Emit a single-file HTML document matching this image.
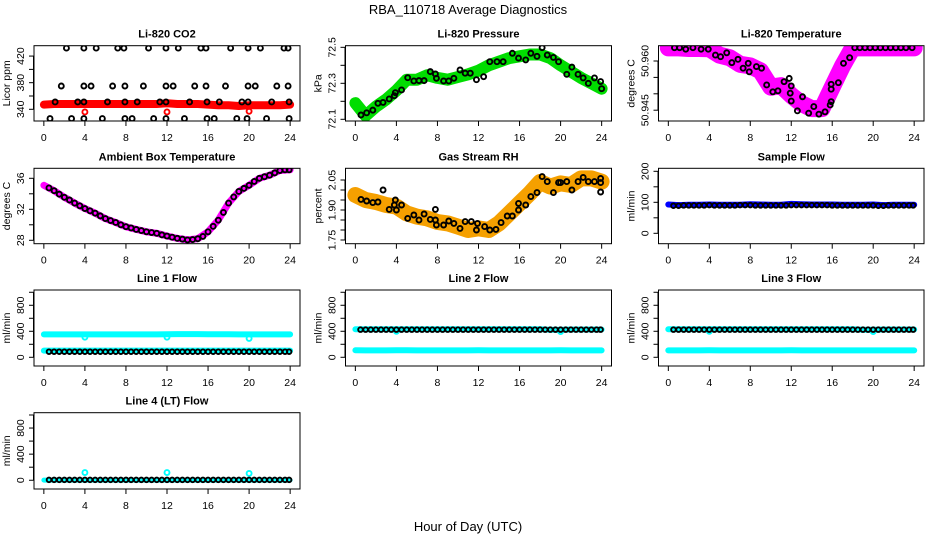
<!DOCTYPE html>
<html><head><meta charset="utf-8"><style>
html,body{margin:0;padding:0;background:#fff;}
svg{display:block;font-family:"Liberation Sans",sans-serif;}
</style></head><body>
<svg id="chart" width="936" height="540" viewBox="0 0 936 540">
<rect width="936" height="540" fill="#fff"/>
<text x="468" y="14" text-anchor="middle" font-size="13">RBA_110718  Average Diagnostics</text>
<text x="468" y="531" text-anchor="middle" font-size="13">Hour of Day (UTC)</text>
</svg>
<script>
// ---- shared hour categories ----
const H25 = [0,1,2,3,4,5,6,7,8,9,10,11,12,13,14,15,16,17,18,19,20,21,22,23,24];
const H48 = [0.5,1,1.5,2,2.5,3,3.5,4,4.5,5,5.5,6,6.5,7,7.5,8,8.5,9,9.5,10,10.5,11,11.5,12,12.5,13,13.5,14,14.5,15,15.5,16,16.5,17,17.5,18,18.5,19,19.5,20,20.5,21,21.5,22,22.5,23,23.5,23.9];
const xTicks = [0,4,8,12,16,20,24];

// ---- CO2 ----
const co2Band = [347,348,348,348,348,348,348,348,348,348,348,348,349,348,348,348,347,346,346,345,346,346,346,346,347];
const co2Hours = [2.2,3.9,5.1,7.2,7.8,10.2,11.9,13.1,15.3,15.8,18.2,19.9,21.1,23.4,23.8,
 1.7,3.9,4.6,6.7,7.9,9.7,11.9,12.6,14.7,15.8,17.7,19.9,20.6,22.7,23.8,
 1.1,3.3,3.9,6.2,7.9,9.1,11.3,11.9,14.2,15.9,17.1,19.3,19.9,22.2,23.9,
 0.6,2.7,3.9,5.7,7.9,8.6,10.7,11.9,13.7,15.9,16.6,18.8,19.8,21.7,23.9];
const co2Vals = [432,432,432,432,432,432,432,432,432,432,432,432,432,432,432,
 375,375,375,375,375,375,375,375,375,375,375,375,375,375,375,
 351,351,351,351,351,351,351,351,351,351,351,351,351,351,351,
 326,326,326,326,326,326,326,326,326,326,326,326,326,326,326];
const co2OutHours = [4,12,20];
const co2OutVals = [336,336,337];

// ---- Pressure ----
const presBand = [72.19,72.12,72.17,72.21,72.26,72.32,72.32,72.345,72.33,72.32,72.335,72.35,72.37,72.4,72.42,72.44,72.45,72.46,72.46,72.44,72.4,72.365,72.33,72.3,72.27];
const presHours = [0.55,1.1,1.7,2.2,2.7,3.3,3.8,3.9,4.5,5.1,5.7,6.2,6.7,7.3,7.8,7.9,8.6,9.1,9.6,10.2,10.7,11.2,11.8,12.5,13.1,13.8,14.4,15.3,15.9,16.6,17.1,17.7,18.2,18.7,19.3,19.8,20.6,21.1,21.7,22.2,22.7,23.3,23.9,24];
const presVals = [72.124,72.136,72.151,72.189,72.194,72.213,72.231,72.248,72.263,72.331,72.313,72.315,72.315,72.365,72.352,72.328,72.313,72.313,72.328,72.374,72.356,72.356,72.32,72.337,72.42,72.42,72.42,72.467,72.44,72.43,72.467,72.45,72.498,72.457,72.444,72.42,72.35,72.39,72.35,72.33,72.30,72.33,72.31,72.27];

// ---- Li-820 temperature ----
const ltBand = [50.9640,50.9640,50.9638,50.9638,50.9637,50.9618,50.9610,50.9590,50.9585,50.9570,50.9520,50.9525,50.9495,50.9470,50.9455,50.9455,50.9520,50.9585,50.9640,50.9640,50.9640,50.9640,50.9640,50.9640,50.9640];
const ltHours = [0.6,1.1,1.7,2.4,3.2,3.9,4.6,5.1,5.7,6.2,6.8,7.3,7.8,7.9,8.6,9.1,9.6,10.2,10.7,11.3,11.8,11.9,12,12,12.6,13.1,13.7,14.2,14.7,15.3,15.8,15.9,15.9,15.9,16.6,17.1,17.7,18.2,18.7,19.2,19.7,20.2,20.7,21.2,21.7,22.2,22.7,23.2,23.8];
const ltVals = [50.96405,50.96405,50.9636,50.96405,50.9636,50.9636,50.9618,50.9613,50.9625,50.9595,50.9605,50.9578,50.9593,50.9567,50.9583,50.9578,50.9527,50.9506,50.9509,50.9537,50.9547,50.9502,50.9524,50.9478,50.9448,50.9491,50.9441,50.9461,50.9438,50.9445,50.9466,50.9476,50.9514,50.9529,50.9534,50.9593,50.9610,50.96405,50.96405,50.96405,50.96405,50.96405,50.96405,50.96405,50.96405,50.96405,50.96405,50.96405,50.96405];

// ---- Ambient box temperature ----
const ambBand = [35.1,34.4,33.55,32.8,32.1,31.5,30.8,30.3,29.75,29.4,29.1,28.9,28.55,28.25,28.05,28.2,29.1,30.6,32.8,34.3,35.1,36,36.4,37,37.1];
const ambVals = [34.75,34.4,33.95,33.55,33.2,32.8,32.45,32.1,31.8,31.5,31.15,30.8,30.55,30.3,30.0,29.75,29.6,29.4,29.25,29.1,29.0,28.9,28.7,28.55,28.4,28.25,28.15,28.05,28.1,28.2,28.5,29.1,29.8,30.6,31.6,32.8,33.6,34.3,34.7,35.1,35.6,36,36.2,36.4,36.7,37.0,37.1,37.1];

// ---- Gas stream RH ----
const rhBand = [1.975,1.95,1.94,1.925,1.917,1.883,1.867,1.858,1.84,1.833,1.817,1.80,1.808,1.80,1.833,1.883,1.933,1.983,2.04,2.017,2.033,2.025,2.058,2.058,2.042];
const rhHours = [0.55,1.1,1.7,2.2,2.7,3.3,3.8,3.9,4.0,4.5,5.1,5.7,6.2,6.7,7.3,7.8,7.8,7.9,8.6,9.1,9.6,10.2,10.7,11.3,11.8,11.9,12.6,13.1,13.7,14.2,14.8,15.3,15.9,15.9,16.6,17.1,17.7,18.2,18.7,19.3,19.8,20.0,20.6,21.1,21.7,22.2,22.7,23.3,23.9,23.9,23.9];
const rhVals = [1.953,1.945,1.937,1.94,2.0,1.903,1.925,1.95,1.9,1.925,1.858,1.875,1.85,1.88,1.853,1.903,1.85,1.825,1.825,1.845,1.833,1.808,1.842,1.842,1.80,1.833,1.817,1.80,1.803,1.837,1.87,1.87,1.90,1.933,1.925,1.967,1.987,2.067,2.042,1.987,2.037,2.037,2.042,2.0,2.042,2.063,2.042,2.042,2.037,2.058,1.99];

// ---- Sample flow ----
const sfBand = [93,91,92,92,93,92,92,92,94,93,92,92,95,94,93,93,93,92,92,92,93,91,92,92,92];
const sfVals = [89,89,90,90,90,90,90,91,90,90,90,90,90,91,91,91,90,90,90,90,90,90,90,91,91,91,91,91,91,91,91,90,90,90,90,90,90,90,90,90,89,89,90,90,90,90,90,90];

// ---- Line flows ----
const l1CyanHi = [352,352,352,352,352,352,352,352,352,352,352,352,354,356,356,356,354,354,354,352,352,352,352,352,352];
const l1CyanLo = [103,103,103,103,103,103,103,103,103,103,103,103,103,103,103,103,103,103,103,103,103,103,103,103,103];
const l1Black = Array.from(H48, () => 86);
const l1OutHours = [4,12,20];
const l1OutVals = [310,310,290];

const l2CyanHi = [432,432,432,432,432,432,432,432,432,432,432,432,432,432,432,432,432,432,430,425,425,428,428,428,428];
const l2CyanLo = [108,106,106,106,108,108,106,106,106,106,106,106,108,106,106,106,106,106,106,106,108,106,106,106,106];
const l2Black = Array.from(H48, () => 425);
const l2OutHours = [4,20];
const l2OutVals = [400,395];

const l3CyanHi = [432,432,432,432,432,432,432,432,432,432,432,432,432,432,432,432,432,432,430,425,425,428,428,428,428];
const l3CyanLo = [106,106,106,106,108,106,106,106,106,106,106,106,108,106,106,106,106,106,106,106,106,106,106,106,106];
const l3Black = Array.from(H48, () => 425);
const l3OutHours = [4,20];
const l3OutVals = [400,395];

const l4Cyan = [2,2,2,2,2,2,2,2,2,2,2,2,2,2,2,2,2,2,2,2,2,2,2,2,2];
const l4Black = Array.from(H48, () => 6);
const l4OutHours = [4,12,20];
const l4OutVals = [118,118,105];

// ---- layout ----
const NS = 'http://www.w3.org/2000/svg';
const svg = document.getElementById('chart');
const COLS = [{l:34,r:300},{l:345.5,r:611.5},{l:658.5,r:924}];
const ROWS = [{t:45.7,b:121},{t:168.3,b:243.7},{t:290,b:366},{t:412.7,b:489}];

function mk(tag, attrs, parent) {
  const e = document.createElementNS(NS, tag);
  for (const k in attrs) e.setAttribute(k, attrs[k]);
  (parent || svg).appendChild(e);
  return e;
}

function panel(name, col, row, title, ylab, ydom, yticks, ylabels) {
  const C = COLS[col], R = ROWS[row];
  const g = mk('g', {});
  
  
  const span = (C.r - C.l) / 1.08;
  const x = h => C.l + span * 0.04 + span * h / 24;
  const y = v => R.b - (v - ydom[0]) / (ydom[1] - ydom[0]) * (R.b - R.t);
  const t = mk('text', {x:(C.l + C.r) / 2, y:R.t - 8, 'text-anchor':'middle', 'font-size':11, 'font-weight':'bold'}, g);
  t.textContent = title;
  
  
  const yl = mk('text', {x:0, y:0, 'text-anchor':'middle', 'font-size':10.5, transform:`translate(${C.l - 24},${(R.t + R.b) / 2}) rotate(-90)`}, g);
  yl.textContent = ylab;
  
  
  const xa = mk('g', {stroke:'#000', 'stroke-width':1}, g);
  
  
  xTicks.forEach(h => {
    mk('line', {x1:x(h), x2:x(h), y1:R.b, y2:R.b + 5}, xa);
    const tl = mk('text', {x:x(h), y:R.b + 20, 'text-anchor':'middle', 'font-size':10.5, stroke:'none', fill:'#000'}, xa);
    tl.textContent = h;
    
    
  });
  const ya = mk('g', {stroke:'#000', 'stroke-width':1}, g);
  
  
  mk('line', {x1:C.l - 0.5, x2:C.l - 0.5, y1:y(yticks[0]), y2:y(yticks[yticks.length - 1])}, ya);
  yticks.forEach(v => mk('line', {x1:C.l - 5, x2:C.l, y1:y(v), y2:y(v)}, ya));
  ylabels.forEach(v => {
    const tl = mk('text', {x:0, y:0, 'text-anchor':'middle', 'font-size':10.5, stroke:'none', fill:'#000', transform:`translate(${C.l - 10},${y(v)}) rotate(-90)`}, ya);
    tl.textContent = v;
    
    
  });
  const clipId = 'clip-' + name;
  const cp = mk('clipPath', {id:clipId}, g);
  mk('rect', {x:C.l, y:R.t, width:C.r - C.l, height:R.b - R.t}, cp);
  const plot = mk('g', {'clip-path':`url(#${clipId})`}, g);
  const box = mk('rect', {x:C.l, y:R.t, width:C.r - C.l, height:R.b - R.t, fill:'none', stroke:'#000', 'stroke-width':1}, g);
  
  
  return {x, y, plot};
}

function band(P, name, hours, vals, color, w) {
  const d = hours.map((h, i) => (i ? 'L' : 'M') + P.x(h).toFixed(1) + ' ' + P.y(vals[i]).toFixed(1)).join(' ');
  const p = mk('path', {d, fill:'none', stroke:color, 'stroke-width':w, 'stroke-linejoin':'round', 'stroke-linecap':'round'}, P.plot);
  
  
}
function pts(P, name, hours, vals, color, r) {
  const g = mk('g', {fill:'none', stroke:color, 'stroke-width':1.9}, P.plot);
  
  
  hours.forEach((h, i) => {
    const c = mk('circle', {cx:P.x(h), cy:P.y(vals[i]), r:r || 2.5}, g);
    
    
  });
}

let P;
P = panel('co2', 0, 0, 'Li-820 CO2', 'Licor ppm', [322.4, 435.6], [340,360,380,400,420], [340,380,420]);
band(P, 'co2-band', H25, co2Band, '#ff0000', 8);
pts(P, 'co2-outliers', co2OutHours, co2OutVals, '#ff0000');
pts(P, 'co2-hourly', co2Hours, co2Vals, '#000');

P = panel('pressure', 1, 0, 'Li-820 Pressure', 'kPa', [72.0906, 72.509], [72.1,72.2,72.3,72.4,72.5], [72.1,72.3,72.5]);
band(P, 'pressure-band', H25, presBand, '#00dd00', 12);
pts(P, 'pressure-hourly', presHours, presVals, '#000');

P = panel('li820-temp', 2, 0, 'Li-820 Temperature', 'degrees C', [50.94171, 50.96466], [50.945,50.950,50.955,50.960], ['50.945','50.960']);
band(P, 'li820-temp-band', H25, ltBand, '#ff00ff', 17);
pts(P, 'li820-temp-hourly', ltHours, ltVals, '#000');

P = panel('ambient-temp', 0, 1, 'Ambient Box Temperature', 'degrees C', [27.56, 37.29], [28,30,32,34,36], [28,32,36]);
band(P, 'ambient-temp-band', H25, ambBand, '#ff00ff', 7);
pts(P, 'ambient-temp-hourly', H48, ambVals, '#000');

P = panel('gas-rh', 1, 1, 'Gas Stream RH', 'percent', [1.7315, 2.1085], [1.75,1.80,1.85,1.90,1.95,2.00,2.05], ['1.75','1.90','2.05']);
band(P, 'gas-rh-band', H25, rhBand, '#f5a000', 16);
pts(P, 'gas-rh-hourly', rhHours, rhVals, '#000');

P = panel('sample-flow', 2, 1, 'Sample Flow', 'ml/min', [-33.5, 209.7], [0,50,100,150,200], [0,100,200]);
band(P, 'sample-flow-band', H25, sfBand, '#0000ff', 6);
pts(P, 'sample-flow-hourly', H48, sfVals, '#000', 2.3);

const fT = [0,200,400,600,800,1000], fL = [0,400,800], fD = [-134, 1035];
P = panel('line1-flow', 0, 2, 'Line 1 Flow', 'ml/min', fD, fT, fL);
band(P, 'line1-cyan-high', H25, l1CyanHi, '#00ffff', 6);
band(P, 'line1-cyan-low', H25, l1CyanLo, '#00ffff', 6);
pts(P, 'line1-outliers', l1OutHours, l1OutVals, '#00ffff');
pts(P, 'line1-hourly', H48, l1Black, '#000', 2.3);

P = panel('line2-flow', 1, 2, 'Line 2 Flow', 'ml/min', fD, fT, fL);
band(P, 'line2-cyan-high', H25, l2CyanHi, '#00ffff', 6);
band(P, 'line2-cyan-low', H25, l2CyanLo, '#00ffff', 6);
pts(P, 'line2-outliers', l2OutHours, l2OutVals, '#00ffff');
pts(P, 'line2-hourly', H48, l2Black, '#000', 2.3);

P = panel('line3-flow', 2, 2, 'Line 3 Flow', 'ml/min', fD, fT, fL);
band(P, 'line3-cyan-high', H25, l3CyanHi, '#00ffff', 6);
band(P, 'line3-cyan-low', H25, l3CyanLo, '#00ffff', 6);
pts(P, 'line3-outliers', l3OutHours, l3OutVals, '#00ffff');
pts(P, 'line3-hourly', H48, l3Black, '#000', 2.3);

P = panel('line4-flow', 0, 3, 'Line 4 (LT) Flow', 'ml/min', fD, fT, fL);
band(P, 'line4-cyan', H25, l4Cyan, '#00ffff', 5);
pts(P, 'line4-outliers', l4OutHours, l4OutVals, '#00ffff');
pts(P, 'line4-hourly', H48, l4Black, '#000', 2.3);
</script>
</body></html>
